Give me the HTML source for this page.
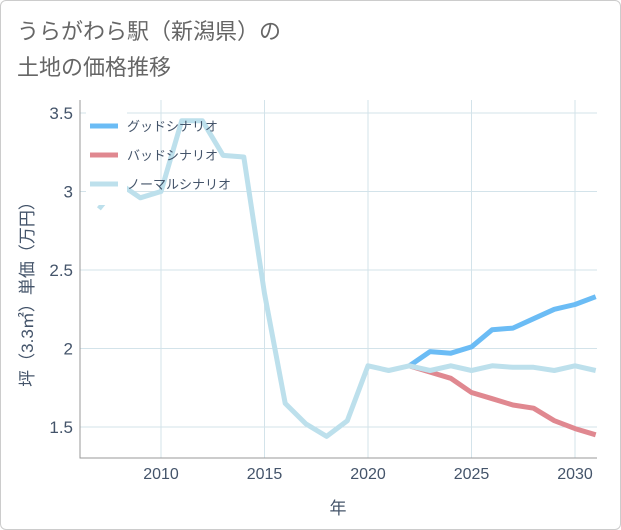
<!DOCTYPE html>
<html><head><meta charset="utf-8"><style>
body{margin:0;background:#fff;font-family:"Liberation Sans","Noto Sans CJK JP",sans-serif;}
#card{position:absolute;left:0;top:0;width:619px;height:528px;border:1px solid #ccc;border-radius:6px;}
#title{position:absolute;left:17px;top:14px;font-size:22px;line-height:36px;color:#666;}
</style></head><body>
<div id="card"></div>
<div id="title">うらがわら駅（新潟県）の<br>土地の価格推移</div>
<svg id="chart" width="621" height="530" style="position:absolute;left:0;top:0"></svg>
<script>
const years=[2007,2008,2009,2010,2011,2012,2013,2014,2015,2016,2017,2018,2019,2020,2021,2022,2023,2024,2025,2026,2027,2028,2029,2030,2031];
const normal=[2.89,3.05,2.96,3.0,3.45,3.45,3.23,3.22,2.35,1.65,1.52,1.44,1.54,1.89,1.86,1.89,1.86,1.89,1.86,1.89,1.88,1.88,1.86,1.89,1.86];
const fYears=[2022,2023,2024,2025,2026,2027,2028,2029,2030,2031];
const good=[1.89,1.98,1.97,2.01,2.12,2.13,2.19,2.25,2.28,2.33];
const bad=[1.89,1.85,1.81,1.72,1.68,1.64,1.62,1.54,1.49,1.45];
const xTicks=[2010,2015,2020,2025,2030];
const yTicks=[1.5,2,2.5,3,3.5];
const yLabels=["1.5","2","2.5","3","3.5"];
const L=80,R=597,T=100,B=458;
const X=v=>161+(v-2010)*20.7;
const Y=v=>113+(3.5-v)*157;
const svg=document.getElementById('chart');const NS='http://www.w3.org/2000/svg';
function mk(t,a,p){const e=document.createElementNS(NS,t);for(const k in a)e.setAttribute(k,a[k]);(p||svg).appendChild(e);return e;}
const defs=mk('defs',{});const cp=mk('clipPath',{id:'cp'},defs);mk('rect',{x:L,y:T,width:R-L,height:B-T},cp);
xTicks.forEach((t,i)=>{const g=mk('line',{x1:X(t),x2:X(t),y1:T,y2:B,stroke:'#d3e3ea','stroke-width':1});

const tx=mk('text',{x:X(t),y:B+21,'text-anchor':'middle','font-size':16,fill:'#44546a'});tx.textContent=t;
});
yTicks.forEach((t,i)=>{const g=mk('line',{x1:L,x2:R,y1:Y(t),y2:Y(t),stroke:'#d3e3ea','stroke-width':1});

const tx=mk('text',{x:L-7,y:Y(t)+6,'text-anchor':'end','font-size':17,fill:'#44546a'});tx.textContent=yLabels[i];
});
const ax=mk('path',{d:`M${L},${T}V${B}H${R}`,fill:'none',stroke:'#999','stroke-width':1});

function line(xs,ys,c,name){const d=xs.map((x,i)=>(i?'L':'M')+X(x).toFixed(1)+','+Y(ys[i]).toFixed(1)).join('');
const p=mk('path',{d,fill:'none',stroke:c,'stroke-width':5,'stroke-linejoin':'round','clip-path':'url(#cp)'});
}
line(fYears,good,'#6bbcf5','good-scenario-line');
line(fYears,bad,'#e08890','bad-scenario-line');
line(years,normal,'#bde0ec','normal-scenario-line');
const lg=mk('g',{});
mk('rect',{x:86,y:110,width:41,height:95,fill:'#fff'},lg);
[['グッドシナリオ','#6bbcf5'],['バッドシナリオ','#e08890'],['ノーマルシナリオ','#bde0ec']].forEach((e,i)=>{
const y=126+i*29;const g=mk('g',{},lg);
mk('line',{x1:90,x2:118,y1:y,y2:y,stroke:e[1],'stroke-width':5},g);
const t=mk('text',{x:127,y:y+5,'font-size':13,fill:'#44546a'},g);t.textContent=e[0];});
const xt=mk('text',{x:338,y:514,'text-anchor':'middle','font-size':17,fill:'#44546a'});xt.textContent='年';

const yt=mk('text',{x:0,y:0,'text-anchor':'middle','font-size':17,fill:'#44546a',transform:'translate(33,290) rotate(-90)'});yt.textContent='坪（3.3㎡）単価（万円）';

</script>
</body></html>
